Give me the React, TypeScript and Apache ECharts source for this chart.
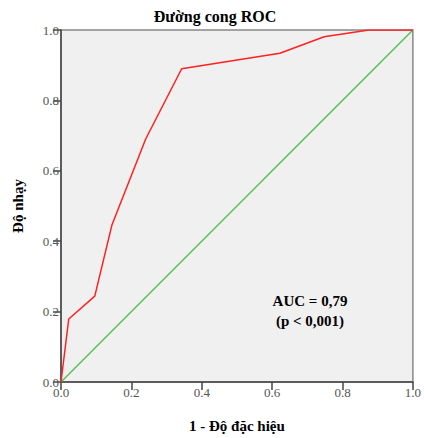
import React, { useEffect, useRef } from "react";
import * as echarts from "echarts";

const rocX = [0, 0.022, 0.096, 0.145, 0.241, 0.343, 0.622, 0.748, 0.875, 1.0];
const rocY = [0, 0.179, 0.244, 0.447, 0.691, 0.89, 0.934, 0.981, 1.0, 1.0];
const refX = [0, 1];
const refY = [0, 1];
const titleText = "Đường cong ROC";
const xName = "1 - Độ đặc hiệu";
const yName = "Độ nhạy";
const aucLines = ["AUC = 0,79", "(p < 0,001)"];

const SERIF = "Liberation Serif";

export default function App() {
  const ref = useRef<HTMLDivElement>(null);
  useEffect(() => {
    if (!ref.current) return;
    const chart = echarts.init(ref.current, undefined, { renderer: "svg" });
    const labelStyle = {
      color: "#555",
      fontFamily: SERIF,
      fontSize: 13,
      formatter: (v: number) => v.toFixed(1),
    };
    const axisCommon = {
      type: "value" as const,
      min: 0,
      max: 1,
      interval: 0.2,
      splitLine: { show: false },
      axisLine: { show: true, lineStyle: { color: "#444", width: 1.5 } },
      axisTick: { show: true, length: 8, lineStyle: { color: "#444", width: 1.5 } },
      nameTextStyle: { fontFamily: SERIF, fontSize: 15, fontWeight: "bold", color: "#000" },
    };
    chart.setOption({
      animation: false,
      backgroundColor: "#fff",
      title: {
        text: titleText,
        left: 210,
        top: 3,
        textAlign: "center",
        textStyle: { fontFamily: SERIF, fontSize: 16, fontWeight: "bold", color: "#000" },
      },
      grid: {
        left: 61,
        top: 30,
        right: 8,
        bottom: 52,
        show: true,
        backgroundColor: "#f0f0f0",
        borderColor: "#888",
        borderWidth: 1.5,
      },
      xAxis: {
        ...axisCommon,
        name: xName,
        nameLocation: "middle",
        nameGap: 36,
        axisLabel: { ...labelStyle, margin: 4 },
      },
      yAxis: {
        ...axisCommon,
        name: yName,
        nameLocation: "middle",
        nameGap: 36,
        axisLabel: { ...labelStyle, margin: 2 },
      },
      series: [
        {
          type: "line",
          data: refX.map((x, i) => [x, refY[i]]),
          showSymbol: false,
          lineStyle: { color: "#4dbb4d", width: 1.3 },
          z: 2,
        },
        {
          type: "line",
          data: rocX.map((x, i) => [x, rocY[i]]),
          showSymbol: false,
          lineStyle: { color: "#ff2020", width: 1.5 },
          z: 3,
        },
      ],
      graphic: [
        {
          type: "text",
          x: 310,
          y: 311,
          style: {
            text: aucLines.join("\n"),
            font: "bold 15px 'Liberation Serif'",
            fill: "#000",
            align: "center",
            verticalAlign: "middle",
            lineHeight: 20,
          },
        },
      ],
    });
    return () => chart.dispose();
  }, []);
  return (
    <div
      ref={ref}
      style={{ position: "absolute", left: 0, top: 0, width: 424, height: 438 }}
    />
  );
}
